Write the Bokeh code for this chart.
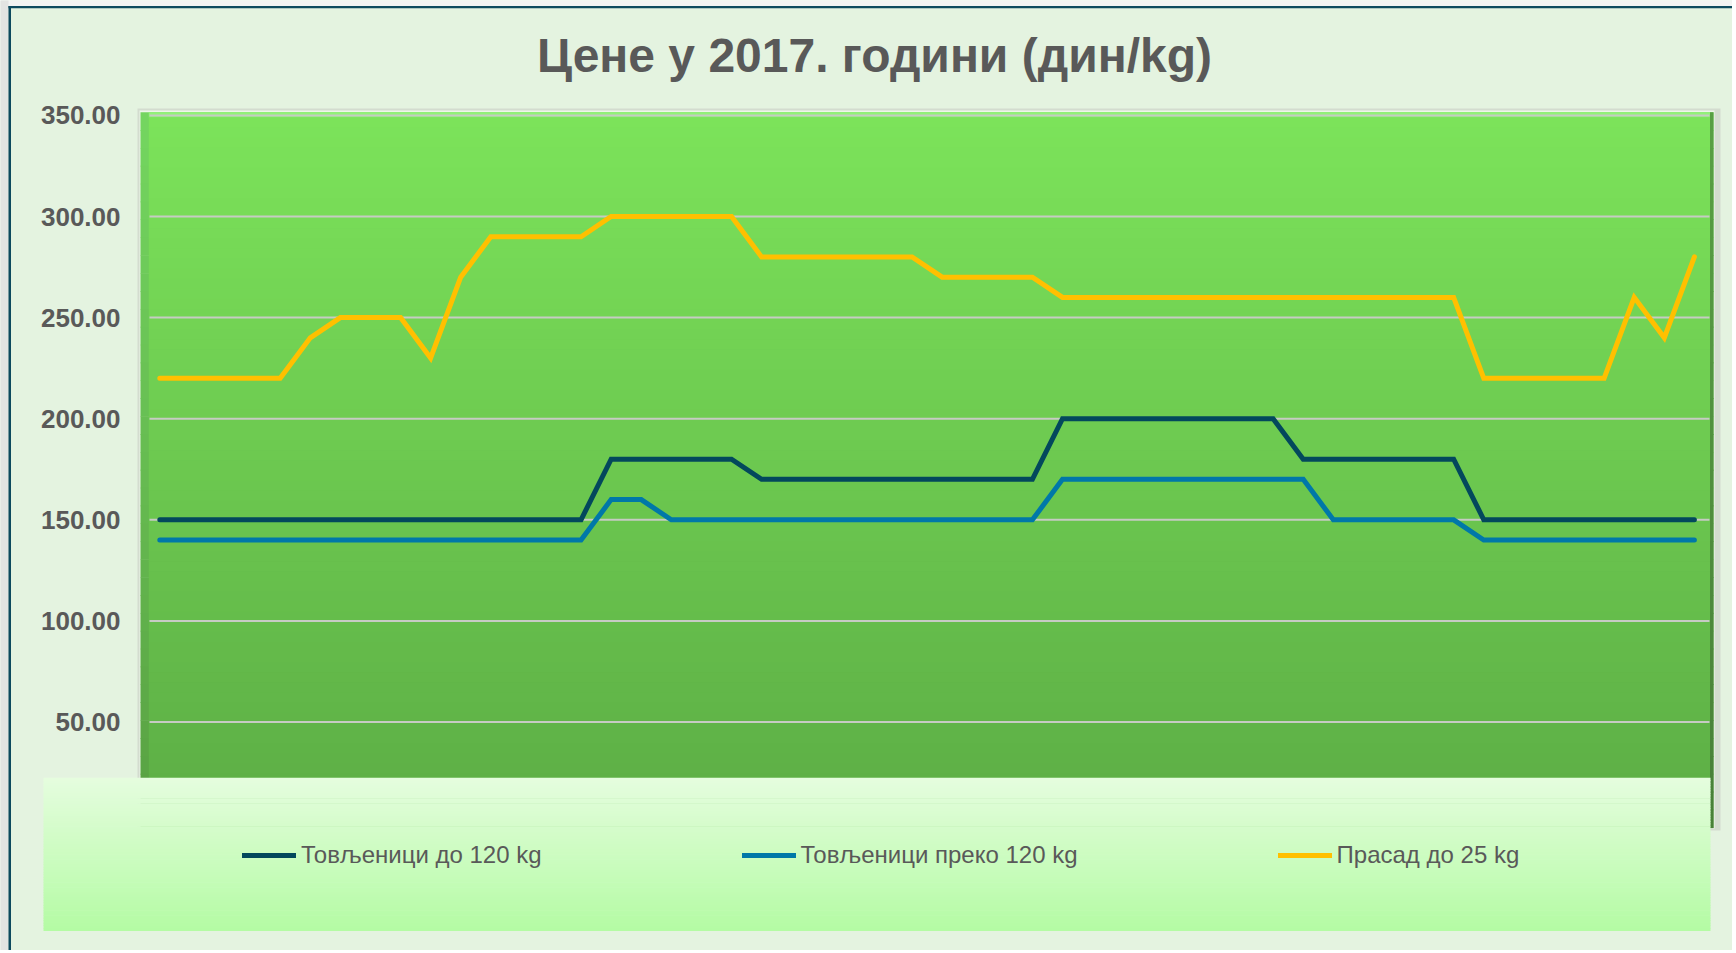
from bokeh.plotting import figure
from bokeh.models import Range1d, Legend, LegendItem
from bokeh.core.properties import value
from bokeh.embed import file_html
from bokeh.resources import INLINE

# ---------------- data ----------------
title_text = "Цене у 2017. години (дин/kg)"
weeks = list(range(1, 53))
series_names = ["Товљеници до 120 kg", "Товљеници преко 120 kg", "Прасад до 25 kg"]
tov_do_120 = [150, 150, 150, 150, 150, 150, 150, 150, 150, 150, 150, 150, 150, 150, 150,
              180, 180, 180, 180, 180,
              170, 170, 170, 170, 170, 170, 170, 170, 170, 170,
              200, 200, 200, 200, 200, 200, 200, 200,
              180, 180, 180, 180, 180, 180,
              150, 150, 150, 150, 150, 150, 150, 150]
tov_preko_120 = [140, 140, 140, 140, 140, 140, 140, 140, 140, 140, 140, 140, 140, 140, 140,
                 160, 160,
                 150, 150, 150, 150, 150, 150, 150, 150, 150, 150, 150, 150, 150,
                 170, 170, 170, 170, 170, 170, 170, 170, 170,
                 150, 150, 150, 150, 150,
                 140, 140, 140, 140, 140, 140, 140, 140]
prasad_do_25 = [220, 220, 220, 220, 220, 240, 250, 250, 250, 230, 270, 290, 290, 290, 290,
                300, 300, 300, 300, 300,
                280, 280, 280, 280, 280, 280,
                270, 270, 270, 270,
                260, 260, 260, 260, 260, 260, 260, 260, 260, 260, 260, 260, 260, 260,
                220, 220, 220, 220, 220, 260, 240, 280]
y_ticks = [50, 100, 150, 200, 250, 300, 350]
y_tick_labels = [f"{v:.2f}" for v in y_ticks]
series_colors = ["#03485c", "#0078a8", "#ffc000"]

# ---------------- layout (page pixels) ----------------
W, H = 1732, 950
OX, OY = 0, 0
X0, DX = 159.3, 30.09     # page x of first week, px per week
Y0, DY = 822.6, 2.022     # page y of value 0, px per unit


def fx(px):
    return (px - X0) / DX + 1


def fy(py):
    return (Y0 - py) / DY


BG = "#e4f3e0"
p = figure(width=W, height=H, x_range=Range1d(fx(OX), fx(OX + W)),
           y_range=Range1d(fy(OY + H), fy(OY)),
           x_axis_location=None, y_axis_location=None,
           toolbar_location=None, tools="", output_backend="svg",
           min_border=0, min_border_left=0, min_border_right=0,
           min_border_top=0, min_border_bottom=0)
p.grid.visible = False
p.outline_line_color = None
p.background_fill_color = BG
p.border_fill_color = BG


def mix(c1, c2, t):
    return "#%02x%02x%02x" % tuple(int(round(a + (b - a) * t)) for a, b in zip(c1, c2))


def gradient(left, right, top, bottom, c_top, c_bot, n):
    ls, rs, ts, bs, cs = [], [], [], [], []
    h = (bottom - top) / n
    for k in range(n):
        t0 = top + k * h
        ls.append(fx(left)); rs.append(fx(right))
        ts.append(fy(t0)); bs.append(fy(t0 + h + 0.6))
        cs.append(mix(c_top, c_bot, (k + 0.5) / n))
    p.quad(left=ls, right=rs, top=ts, bottom=bs, fill_color=cs, line_color=None)


# page surround and outer frame border (left and top)
p.quad(left=[fx(-2)], right=[fx(1740)], top=[fy(-2)], bottom=[fy(6)], fill_color="#f2f3f2", line_color=None)
p.quad(left=[fx(-2)], right=[fx(8)], top=[fy(-2)], bottom=[fy(960)], fill_color="#e2e4e2", line_color=None)
p.quad(left=[fx(8)], right=[fx(10.5)], top=[fy(5.5)], bottom=[fy(960)], fill_color="#0d4a5e", line_color=None)
p.quad(left=[fx(8)], right=[fx(1740)], top=[fy(5.5)], bottom=[fy(7.8)], fill_color="#0d4a5e", line_color=None)

# plot area shadow / bevel
p.quad(left=[fx(137)], right=[fx(1720)], top=[fy(108)], bottom=[fy(830)], fill_color="#d3dccf", line_color=None)
p.quad(left=[fx(139)], right=[fx(1714)], top=[fy(110)], bottom=[fy(828)], fill_color="#eef6ea", line_color=None)
gradient(140, 1713, 111.7, 827, (116, 214, 96), (88, 160, 66), 40)          # side strip / edge base
gradient(1709.5, 1713, 111.7, 827, (88, 160, 68), (72, 128, 56), 20)        # dark right edge
gradient(148.3, 1709.5, 111.7, 116.7, (150, 244, 125), (132, 236, 106), 2)  # top bevel
gradient(148.3, 1709.5, 116.7, 823, (124, 227, 90), (92, 173, 69), 70)      # plot area

# gridlines
p.segment(x0=[fx(149)] * len(y_ticks), x1=[fx(1709)] * len(y_ticks), y0=y_ticks, y1=y_ticks,
          line_color="#c6cbc3", line_width=2)

# series lines
renderers = []
for vals, col in zip([tov_do_120, tov_preko_120, prasad_do_25], series_colors):
    r = p.line(weeks, vals, line_color=col, line_width=5, line_join="miter", line_cap="round")
    renderers.append(r)

# legend box
gradient(43, 1710, 777.3, 930, (229, 253, 222), (180, 251, 164), 60)

legend = Legend(items=[LegendItem(label=n, renderers=[r]) for n, r in zip(series_names, renderers)],
                orientation="horizontal", location=(242, 81), spacing=200,
                glyph_width=54, glyph_height=24, label_height=24, label_width=0,
                label_standoff=5, padding=0, margin=0,
                border_line_color=None, background_fill_alpha=0,
                label_text_font="Liberation Sans", label_text_font_size="24px",
                label_text_color="#595959")
p.add_layout(legend)

# y tick labels
p.text(x=[fx(120)] * len(y_ticks), y=y_ticks, text=y_tick_labels,
       text_font=value("Liberation Sans"), text_font_style="bold", text_font_size="26px",
       text_color="#595959", text_align="right", text_baseline="middle")

# title
p.text(x=[fx(874)], y=[fy(55)], text=[title_text],
       text_font=value("Liberation Sans"), text_font_style="bold", text_font_size="48px",
       text_color="#595959", text_align="center", text_baseline="middle")

open("out.html", "w").write(file_html(p, INLINE))
